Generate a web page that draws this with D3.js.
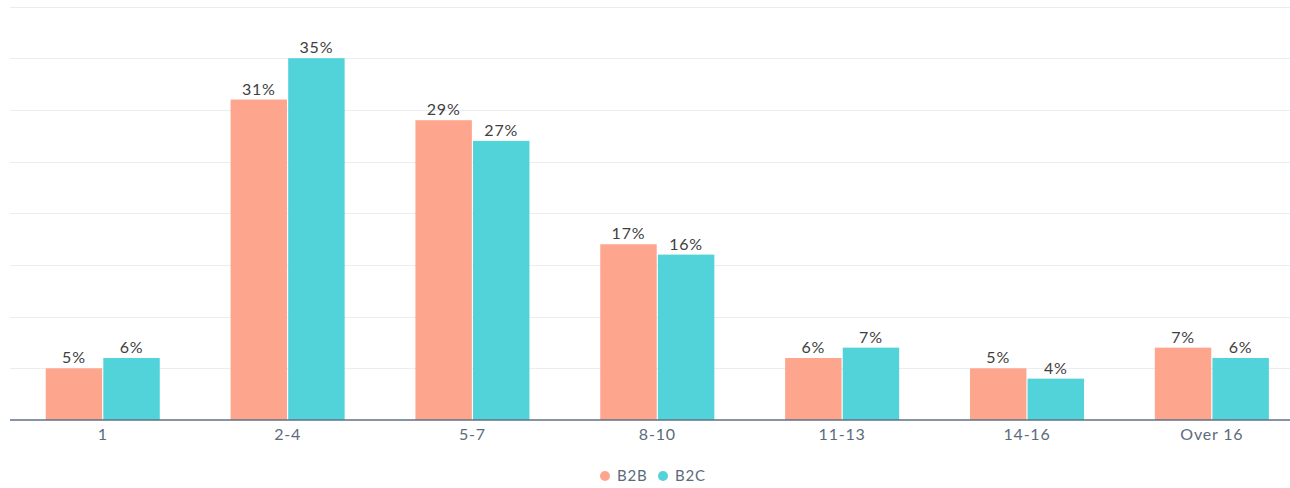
<!DOCTYPE html>
<html><head><meta charset="utf-8">
<script src="https://cdn.jsdelivr.net/npm/d3@7"></script>
<style>html,body{margin:0;padding:0;background:#fff;overflow:hidden}</style>
</head><body><svg id="c" width="1290" height="488"></svg>
<script>
const categories = ["1","2-4","5-7","8-10","11-13","14-16","Over 16"];
const seriesNames = ["B2B","B2C"];
const b2b = [5,31,29,17,6,5,7];
const b2c = [6,35,27,16,7,4,6];
const yTicks = [0,5,10,15,20,25,30,35,40];
const colors = ["#fea58e","#51d3d9"];

const svg = d3.select("#c");
const font = "Lato, 'Open Sans', sans-serif";
const x = d3.scaleBand().domain(categories).range([10.6,1304]).paddingInner(0.383).paddingOuter(0.19);
const x1 = d3.scaleBand().domain(seriesNames).range([0,x.bandwidth()]).paddingInner(0.02);
const y = d3.scaleLinear().domain([0,40]).range([420,6.5]);

svg.append("g").selectAll("line").data(yTicks.slice(1)).join("line")
  .attr("x1",10).attr("x2",1290).attr("y1",d=>Math.round(y(d))+0.5).attr("y2",d=>Math.round(y(d))+0.5)
  .attr("stroke","#eaeef2").attr("stroke-width",1);

const data = categories.map((c,i)=>({cat:c, vals:[b2b[i],b2c[i]]}));
const g = svg.append("g").selectAll("g").data(data).join("g")
  .attr("transform",d=>`translate(${x(d.cat)},0)`);
g.selectAll("rect").data(d=>d.vals.map((v,j)=>({k:seriesNames[j],v,j}))).join("rect")
  .attr("x",d=>x1(d.k)).attr("width",x1.bandwidth())
  .attr("y",d=>y(d.v)).attr("height",d=>y(0)-y(d.v))
  .attr("fill",d=>colors[d.j]);
g.selectAll("text").data(d=>d.vals.map((v,j)=>({k:seriesNames[j],v,j}))).join("text")
  .attr("x",d=>x1(d.k)+x1.bandwidth()/2).attr("y",d=>y(d.v)-5)
  .attr("text-anchor","middle").attr("font-family",font).attr("font-size",16)
  .attr("letter-spacing","0.8px")
  .attr("fill","#404040").text(d=>d.v+"%");

const xa = svg.append("g").attr("transform","translate(0,420)")
  .call(d3.axisBottom(x).tickSize(0).tickPadding(9));
xa.select(".domain").remove();
xa.selectAll("text").attr("font-family",font).attr("font-size",16).attr("letter-spacing","0.8px").attr("fill","#5b6b7d");
svg.append("line").attr("x1",10).attr("x2",1290).attr("y1",420).attr("y2",420)
  .attr("stroke","#5f7186").attr("stroke-width",1.5);

const leg = svg.append("g").attr("transform","translate(605,476)");
const li = leg.selectAll("g").data(seriesNames).join("g").attr("transform",(d,i)=>`translate(${i*58},0)`);
li.append("circle").attr("r",5).attr("fill",(d,i)=>colors[i]);
li.append("text").attr("x",12).attr("dy","0.35em").attr("font-family",font).attr("font-size",15)
  .attr("letter-spacing","0.8px").attr("fill","#5b6b7d").text(d=>d);
</script></body></html>
